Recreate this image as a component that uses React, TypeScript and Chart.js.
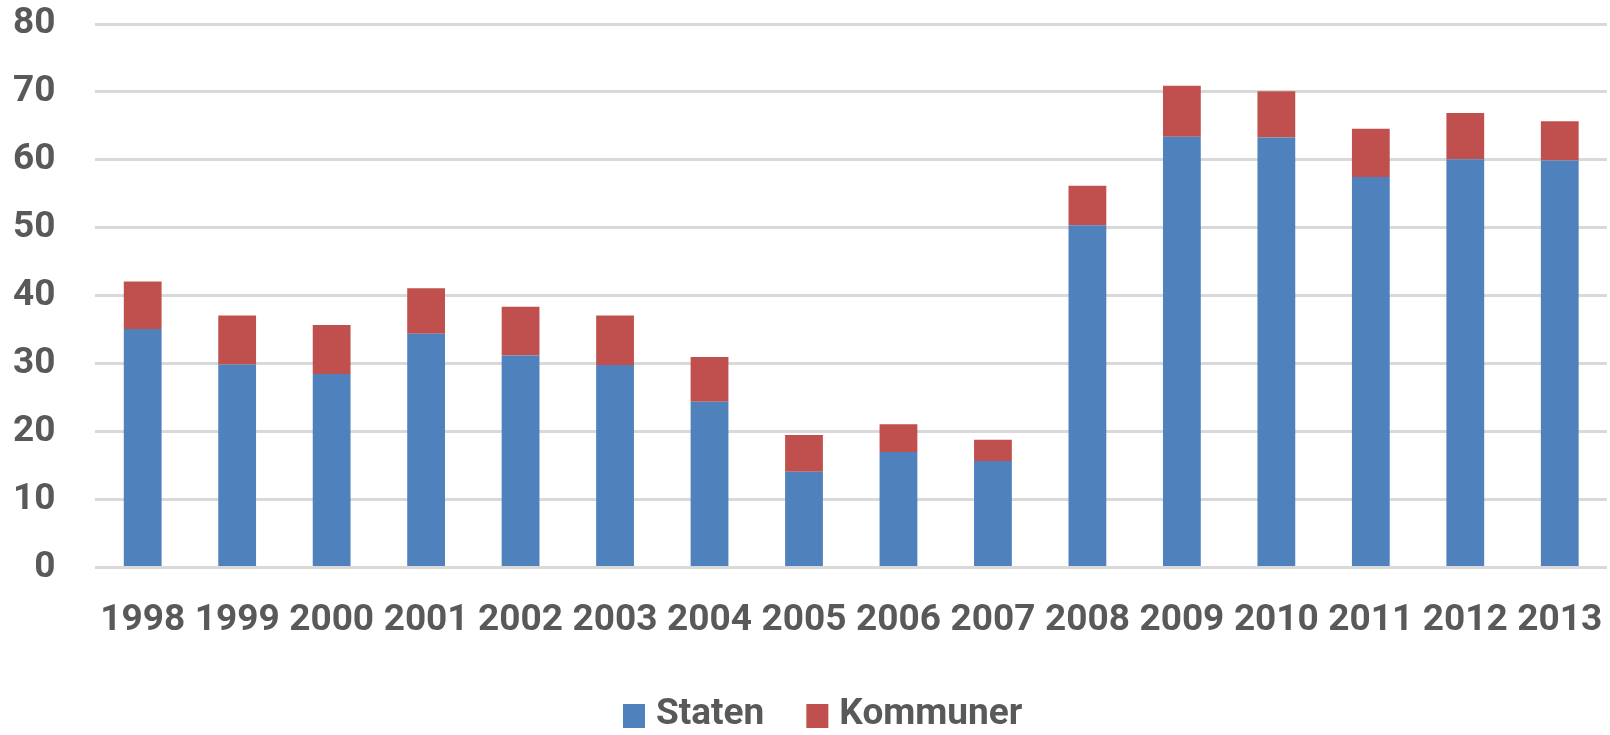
import React, { useEffect, useRef } from "react";
import { Chart, registerables } from "chart.js";

Chart.register(...registerables);

const years = ["1998", "1999", "2000", "2001", "2002", "2003", "2004", "2005", "2006", "2007", "2008", "2009", "2010", "2011", "2012", "2013"];
const staten = [35.1, 29.9, 28.5, 34.4, 31.2, 29.8, 24.4, 14.1, 17.0, 15.7, 50.4, 63.4, 63.3, 57.5, 60.1, 59.9];
const kommuner = [7.0, 7.2, 7.2, 6.7, 7.2, 7.3, 6.6, 5.4, 4.1, 3.1, 5.8, 7.5, 6.8, 7.1, 6.8, 5.8];
const seriesNames = ["Staten", "Kommuner"];
const seriesColors = ["#4F81BD", "#C0504D"];
const yMax = 80;
const yStep = 10;

const TEXT_COLOR = "#595959";
const FONT_FAMILY = "Roboto, 'Liberation Sans', sans-serif";
const FONT_SIZE = 37;
const X_TICK_PAD = 31;
const Y_TICK_PAD = 40;

const legendPlugin = {
  id: "bottomLegend",
  afterDraw(chart: any) {
    const ctx = chart.ctx;
    ctx.save();
    ctx.font = `bold ${FONT_SIZE}px ${FONT_FAMILY}`;
    ctx.textBaseline = "middle";
    ctx.textAlign = "left";
    const boxW = 22;
    const boxH = 24;
    const yMid = 715;
    let x = 623;
    chart.data.datasets.forEach((ds: any) => {
      ctx.fillStyle = ds.backgroundColor;
      ctx.fillRect(x, yMid - boxH / 2 + 1, boxW, boxH);
      x += boxW + 11;
      ctx.fillStyle = TEXT_COLOR;
      ctx.fillText(ds.label, x, yMid);
      x += ctx.measureText(ds.label).width + 42;
    });
    ctx.restore();
  },
};

export default function App() {
  const canvasRef = useRef<HTMLCanvasElement | null>(null);

  useEffect(() => {
    if (!canvasRef.current) return;
    const chart = new Chart(canvasRef.current, {
      type: "bar",
      data: {
        labels: years,
        datasets: [
          {
            label: seriesNames[0],
            data: staten,
            backgroundColor: seriesColors[0],
            borderWidth: 0,
            barPercentage: 0.4,
            categoryPercentage: 1,
          },
          {
            label: seriesNames[1],
            data: kommuner,
            backgroundColor: seriesColors[1],
            borderWidth: 0,
            barPercentage: 0.4,
            categoryPercentage: 1,
          },
        ],
      },
      options: {
        animation: false,
        responsive: true,
        maintainAspectRatio: false,
        layout: { padding: { left: 13, right: 3, top: 24, bottom: 92 } },
        plugins: {
          legend: { display: false },
          tooltip: { enabled: false },
        },
        scales: {
          x: {
            stacked: true,
            grid: { display: false, drawTicks: false },
            border: { display: false },
            ticks: {
              color: TEXT_COLOR,
              font: { family: FONT_FAMILY, size: FONT_SIZE, weight: "bold" },
              padding: X_TICK_PAD,
              autoSkip: false,
              maxRotation: 0,
              minRotation: 0,
            },
            afterFit(scale: any) {
              scale.paddingLeft = 0;
              scale.paddingRight = 0;
              scale.height -= X_TICK_PAD;
            },
          },
          y: {
            stacked: true,
            min: 0,
            max: yMax,
            grid: { color: "#D9D9D9", lineWidth: 3, drawTicks: false },
            border: { display: false },
            ticks: {
              stepSize: yStep,
              color: TEXT_COLOR,
              font: { family: FONT_FAMILY, size: FONT_SIZE, weight: "bold" },
              padding: Y_TICK_PAD,
            },
            afterFit(scale: any) {
              scale.paddingTop = 0;
              scale.paddingBottom = 0;
              scale.width -= Y_TICK_PAD;
            },
          },
        },
      },
      plugins: [legendPlugin],
    });
    return () => chart.destroy();
  }, []);

  return (
    <div style={{ position: "absolute", left: 0, top: 0, width: "1610px", height: "735px", background: "#fff" }}>
      <canvas ref={canvasRef} />
    </div>
  );
}
